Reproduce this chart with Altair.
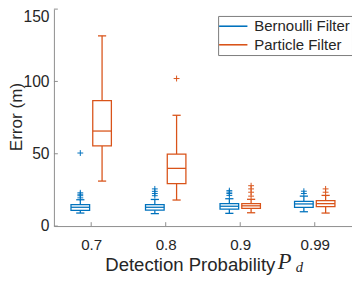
import json
import altair as alt
import pandas as pd

# ---- data ----
pd_labels = ["0.7", "0.8", "0.9", "0.99"]
series = ["Bernoulli Filter", "Particle Filter"]
colors = ["#0072BD", "#D95319"]

bern_lower = [9.0, 8.6, 8.8, 9.9]
bern_q1 = [10.8, 11.0, 11.7, 13.0]
bern_med = [13.0, 13.0, 13.7, 15.3]
bern_q3 = [14.9, 14.9, 15.5, 17.1]
bern_upper = [18.2, 18.4, 18.9, 20.7]
bern_outliers = [[19.5, 21.0, 22.0, 23.0, 50.5], [21.0, 22.5, 24.0, 25.7],
                 [21.2, 22.5, 23.5, 24.5], [22.5, 24.1]]

part_lower = [31.1, 18.0, 9.2, 9.0]
part_q1 = [55.4, 29.3, 12.2, 13.5]
part_med = [65.7, 39.9, 14.0, 15.5]
part_q3 = [86.7, 49.8, 15.5, 17.6]
part_upper = [131.5, 76.6, 18.5, 21.2]
part_outliers = [[], [102.0], [20.7, 23.4, 25.7, 27.9], [23.4, 25.7]]

y_ticks = [0, 50, 100, 150]

# ---- tables ----
OFF, HALF, CAP = 0.146, 0.125, 0.055
stats = [
    (bern_lower, bern_q1, bern_med, bern_q3, bern_upper, bern_outliers),
    (part_lower, part_q1, part_med, part_q3, part_upper, part_outliers),
]
rows, outs = [], []
for i, lab in enumerate(pd_labels):
    for s, (lo, q1, md, q3, up, ol) in enumerate(stats):
        pos = i + 1 + (-OFF if s == 0 else OFF)
        rows.append(dict(filter=series[s], pos=pos, bx0=pos - HALF, bx1=pos + HALF,
                         cx0=pos - CAP, cx1=pos + CAP, lower=lo[i], q1=q1[i],
                         med=md[i], q3=q3[i], upper=up[i]))
        for v in ol[i]:
            outs.append(dict(filter=series[s], pos=pos, value=v))
box_df = pd.DataFrame(rows)
out_df = pd.DataFrame(outs)
ytick_df = pd.DataFrame({"v": y_ticks})
xtick_df = pd.DataFrame({"t": list(range(1, len(pd_labels) + 1))})

W, H = 305, 222
FONT = "Liberation Sans"
TXT = "#262626"
AX = "#8c8c8c"

xscale = alt.Scale(domain=[0.5, len(pd_labels) + 0.5], nice=False, zero=False)
yscale = alt.Scale(domain=[0, 150], nice=False)

label_expr = json.dumps(pd_labels) + "[datum.value - 1]"
xaxis = alt.Axis(values=list(range(1, len(pd_labels) + 1)), labelExpr=label_expr,
                 title="Detection Probability", titleAlign="left", titleX=52,
                 titleY=45.3, titleBaseline="alphabetic", titleFontSize=19,
                 titleFontWeight="normal", labelFontSize=15.5, labelPadding=12,
                 tickSize=0, grid=False, domainColor=AX, labelColor=TXT,
                 titleColor=TXT, labelFont=FONT, titleFont=FONT)
yaxis = alt.Axis(values=y_ticks, title="Error (m)", titleX=-33, titleY=110,
                 titleBaseline="alphabetic", titleFontSize=17.5, titleFontWeight="normal",
                 labelFontSize=16, labelPadding=5, tickSize=0, grid=False,
                 labelBaseline={"condition": {"test": "datum.value == 150", "value": "top"},
                                "value": "middle"},
                 domainColor=AX, labelColor=TXT, titleColor=TXT, labelFont=FONT,
                 titleFont=FONT)

legend = alt.Legend(title=None, orient="none", legendX=168, legendY=7,
                    symbolType="M-2,0H2", symbolSize=210, symbolStrokeWidth=1.6,
                    symbolOffset=5, labelOffset=13,
                    labelFontSize=15.3, labelFont=FONT, labelColor=TXT,
                    rowPadding=2, padding=2, strokeColor="#7a7a7a", fillColor="white",
                    labelLimit=200)
color = alt.Color("filter:N", scale=alt.Scale(domain=series, range=colors), legend=legend)


def X(f):
    return alt.X(f, scale=xscale, axis=xaxis)


def Y(f):
    return alt.Y(f, scale=yscale, axis=yaxis)


base = alt.Chart(box_df)

whisk_up = base.mark_rule(strokeWidth=1.3).encode(
    x=X("pos:Q"), y=Y("q3:Q"), y2="upper:Q", color=color)
whisk_lo = base.mark_rule(strokeWidth=1.3).encode(
    x=X("pos:Q"), y=Y("lower:Q"), y2="q1:Q", color=color)
cap_up = base.mark_rule(strokeWidth=1.3).encode(
    x=X("cx0:Q"), x2="cx1:Q", y=Y("upper:Q"), color=color)
cap_lo = base.mark_rule(strokeWidth=1.3).encode(
    x=X("cx0:Q"), x2="cx1:Q", y=Y("lower:Q"), color=color)
box = base.mark_rect(filled=False, strokeWidth=1.3).encode(
    x=X("bx0:Q"), x2="bx1:Q", y=Y("q1:Q"), y2="q3:Q", color=color)
median = base.mark_rule(strokeWidth=1.3).encode(
    x=X("bx0:Q"), x2="bx1:Q", y=Y("med:Q"), color=color)
outl = alt.Chart(out_df).mark_point(shape="M-1,0H1M0,-1V1", size=36, filled=False,
                                    strokeWidth=1, opacity=1).encode(
    x=X("pos:Q"), y=Y("value:Q"), color=color)

ytk = alt.Chart(ytick_df).mark_rule(color=AX, strokeWidth=1).encode(
    x=alt.value(0), x2=alt.value(4), y=Y("v:Q"))
xtk = alt.Chart(xtick_df).mark_rule(color=AX, strokeWidth=1).encode(
    x=X("t:Q"), y=alt.value(H), y2=alt.value(H - 4))

p_txt = alt.Chart(xtick_df).transform_filter("datum.t == 1").mark_text(
    font="Liberation Serif", fontStyle="italic", fontSize=23, align="left",
    baseline="alphabetic", color=TXT).encode(
    x=alt.value(229), y=alt.value(265.5), text=alt.value("P"))
d_txt = alt.Chart(xtick_df).transform_filter("datum.t == 1").mark_text(
    font="Liberation Serif", fontStyle="italic", fontSize=15, align="left",
    baseline="alphabetic", color=TXT).encode(
    x=alt.value(247.5), y=alt.value(268.5), text=alt.value("d"))

chart = alt.layer(whisk_up, whisk_lo, cap_up, cap_lo, box, median, outl, ytk, xtk,
                  p_txt, d_txt).properties(
    width=W, height=H,
    autosize=alt.AutoSizeParams(type="none"),
    padding={"left": 47, "top": -2, "right": 0, "bottom": 50},
).configure_view(stroke=None)

chart.save("out.html", embed_options={"renderer": "svg", "actions": False})
